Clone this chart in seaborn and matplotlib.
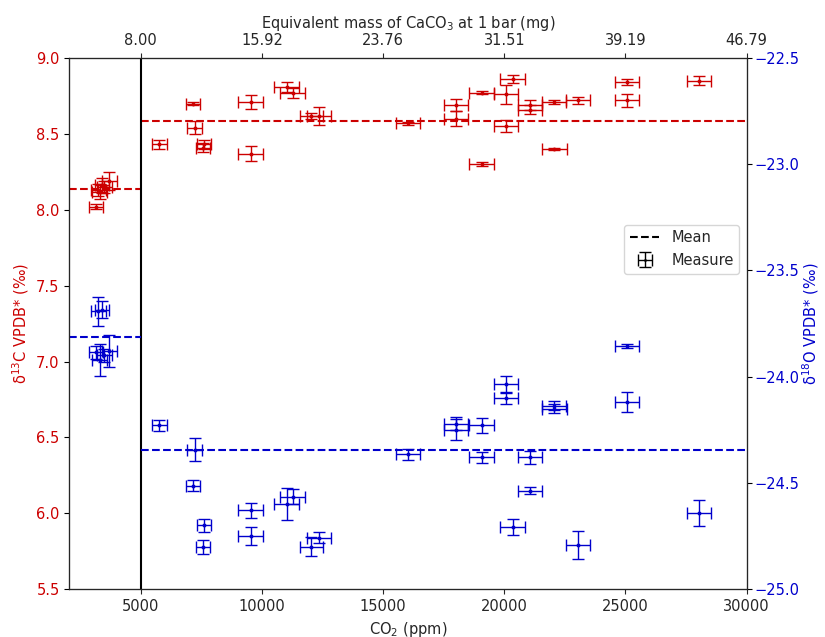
import matplotlib
matplotlib.use("Agg")
import matplotlib.pyplot as plt
from matplotlib.lines import Line2D
import numpy as np
import pandas as pd
import seaborn as sns

RED = "#cc0000"
BLUE = "#0000cc"

# CO2 (ppm) of each sample, shared by both isotopes
CO2 = [3150, 3250, 3300, 3400, 3500, 3700,
       5770, 7150, 7220, 7560, 7620, 9530, 9540, 11020, 11270, 12030, 12340,
       16030, 18000, 18020, 19060, 19070, 20060, 20070, 20340, 21050, 21060,
       22050, 22060, 23040, 25060, 25070, 28030]
CO2_ERR = [300, 300, 300, 300, 300, 300,
           300, 300, 300, 280, 280, 510, 510, 510, 510, 480, 500,
           510, 500, 500, 510, 510, 500, 500, 500, 500, 500,
           510, 510, 510, 500, 500, 500]

D13C = [8.02, 8.13, 8.12, 8.16, 8.15, 8.19,
        8.43, 8.70, 8.54, 8.41, 8.43, 8.71, 8.37, 8.81, 8.77, 8.62, 8.62,
        8.57, 8.69, 8.60, 8.77, 8.30, 8.76, 8.55, 8.86, 8.69, 8.66,
        8.71, 8.40, 8.72, 8.84, 8.72, 8.85]
D13C_ERR = [0.015, 0.04, 0.05, 0.05, 0.04, 0.06,
            0.03, 0.01, 0.044, 0.03, 0.03, 0.047, 0.05, 0.033, 0.033, 0.02, 0.06,
            0.01, 0.04, 0.05, 0.01, 0.015, 0.065, 0.04, 0.025, 0.03, 0.03,
            0.01, 0.005, 0.025, 0.02, 0.04, 0.03]

D18O = [-23.886, -23.693, -23.921, -23.686, -23.900, -23.879,
        -24.229, -24.514, -24.343, -24.800, -24.700, -24.629, -24.750, -24.600, -24.564, -24.800, -24.757,
        -24.364, -24.221, -24.250, -24.229, -24.379, -24.036, -24.100, -24.707, -24.379, -24.536,
        -24.136, -24.150, -24.793, -23.857, -24.121, -24.643]
D18O_ERR = [0.03, 0.069, 0.074, 0.04, 0.03, 0.075,
            0.027, 0.026, 0.053, 0.033, 0.031, 0.035, 0.044, 0.075, 0.035, 0.045, 0.027,
            0.026, 0.03, 0.05, 0.035, 0.027, 0.04, 0.027, 0.037, 0.03, 0.015,
            0.02, 0.02, 0.065, 0.01, 0.047, 0.061]

# mean lines (below / above the 5000 ppm split)
SPLIT = 5000
MEAN_13C = [8.135, 8.587]
MEAN_18O = [-23.812, -24.343]

TOP_TICKS = [5000, 10000, 15000, 20000, 25000, 30000]
TOP_LABELS = ["8.00", "15.92", "23.76", "31.51", "39.19", "46.79"]

df = pd.DataFrame({"co2": CO2, "co2_err": CO2_ERR, "d13c": D13C, "d13c_err": D13C_ERR,
                   "d18o": D18O, "d18o_err": D18O_ERR})

sns.set_style("ticks")
plt.rcParams["font.family"] = ["DejaVu Sans"]
plt.rcParams["font.size"] = 10.5

fig, ax = plt.subplots(figsize=(8.25, 6.37), dpi=100)
fig.subplots_adjust(left=0.084, right=0.905, bottom=0.075, top=0.909)
ax2 = ax.twinx()
XMIN, XMAX = 2050, 30000

ax.errorbar(df["co2"], df["d13c"], xerr=df["co2_err"], yerr=df["d13c_err"], fmt="none",
            ecolor=RED, elinewidth=1.0, capsize=4, capthick=1.0)
sns.scatterplot(data=df, x="co2", y="d13c", ax=ax, color=RED, s=8, edgecolor=RED, linewidth=0)
ax2.errorbar(df["co2"], df["d18o"], xerr=df["co2_err"], yerr=df["d18o_err"], fmt="none",
             ecolor=BLUE, elinewidth=1.0, capsize=4, capthick=1.0)
sns.scatterplot(data=df, x="co2", y="d18o", ax=ax2, color=BLUE, s=8, edgecolor=BLUE, linewidth=0)

ax.hlines(MEAN_13C[0], XMIN, SPLIT, colors=RED, linestyles="--", lw=1.5)
ax.hlines(MEAN_13C[1], SPLIT, XMAX, colors=RED, linestyles="--", lw=1.5)
ax2.hlines(MEAN_18O[0], XMIN, SPLIT, colors=BLUE, linestyles="--", lw=1.5)
ax2.hlines(MEAN_18O[1], SPLIT, XMAX, colors=BLUE, linestyles="--", lw=1.5)
ax.axvline(SPLIT, color="black", lw=1.5)

ax.set_xlim(XMIN, XMAX)
ax.set_ylim(5.5, 9.0)
ax2.set_ylim(-25.0, -22.5)
ax.set_yticks(np.arange(5.5, 9.01, 0.5))
ax2.set_yticks(np.arange(-25.0, -22.49, 0.5))
ax.set_xticks([5000, 10000, 15000, 20000, 25000, 30000])
fmt1 = matplotlib.ticker.FuncFormatter(lambda v, p: f"{v:.1f}".replace("-", "\u2212"))
ax.yaxis.set_major_formatter(fmt1)
ax2.yaxis.set_major_formatter(fmt1)

ax.set_xlabel("CO$_2$ (ppm)")
ax.set_ylabel("δ$^{13}$C VPDB* (‰)", color=RED)
ax2.set_ylabel("δ$^{18}$O VPDB* (‰)", color=BLUE, labelpad=1)
ax.tick_params(axis="y", labelcolor=RED, color="black")
ax2.tick_params(axis="y", labelcolor=BLUE, color="black", pad=2)
for sp in ax2.spines.values():
    sp.set_color("black")

top = ax.twiny()
top.set_xlim(ax.get_xlim())
top.set_xticks(TOP_TICKS)
top.set_xticklabels(TOP_LABELS)
top.set_xlabel("Equivalent mass of CaCO$_3$ at 1 bar (mg)")

# legend entry for the measurements: an empty black errorbar
meas = ax2.errorbar([np.nan], [np.nan], xerr=[1], yerr=[1], fmt=".", color="black",
                    markersize=2, elinewidth=1.0, capsize=4, capthick=1.0)
mean_h = Line2D([0], [0], color="black", ls="--", lw=1.5)
ax2.legend([mean_h, meas], ["Mean", "Measure"], loc="upper right",
           bbox_to_anchor=(1.0, 0.70), fontsize=10.5)

fig.savefig("out.png", dpi=100)
